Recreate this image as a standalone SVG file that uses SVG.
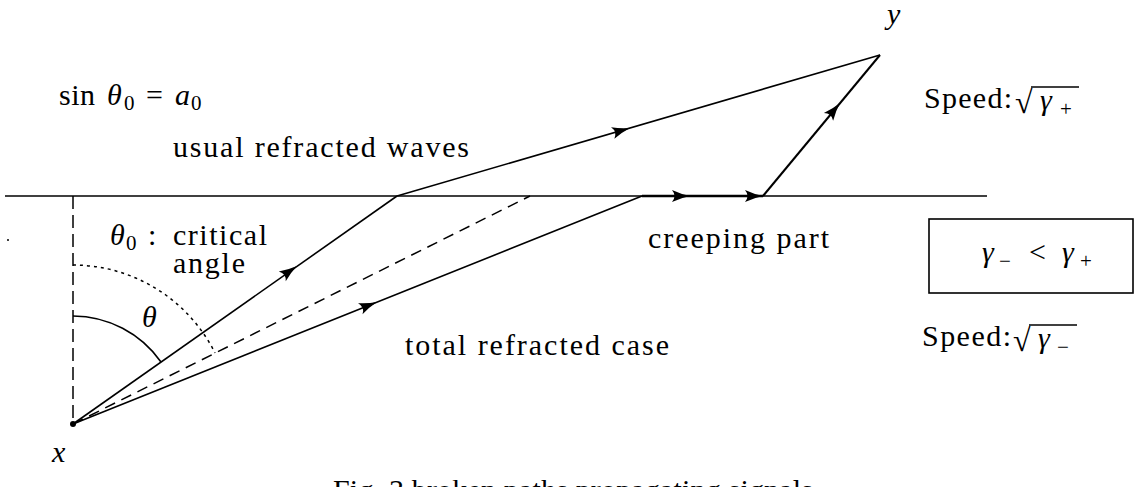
<svg xmlns="http://www.w3.org/2000/svg" width="1139" height="487" viewBox="0 0 1139 487">
<rect width="1139" height="487" fill="#fff"/>
<g id="interface">
<line x1="5" y1="196" x2="987" y2="196" stroke="#000" stroke-width="1.6"/>
<line x1="73" y1="196" x2="73" y2="424" stroke="#000" stroke-width="1.5" stroke-dasharray="13 6"/>
<circle cx="8" cy="240" r="1" fill="#000"/>
</g>
<g id="connectors">
<line x1="73" y1="424" x2="397" y2="196" stroke="#000" stroke-width="1.6"/>
<line x1="397" y1="196" x2="880" y2="55" stroke="#000" stroke-width="1.6"/>
<line x1="73" y1="424" x2="530" y2="196" stroke="#000" stroke-width="1.5" stroke-dasharray="11 7"/>
<line x1="73" y1="424" x2="642" y2="196" stroke="#000" stroke-width="1.6"/>
<line x1="642" y1="196" x2="763" y2="196" stroke="#000" stroke-width="2.4"/>
<line x1="763" y1="196" x2="880" y2="55" stroke="#000" stroke-width="2"/>
<path d="M73,316 A108,108 0 0 1 161,362" fill="none" stroke="#000" stroke-width="1.6"/>
<path d="M73,265 A159,159 0 0 1 215,353" fill="none" stroke="#000" stroke-width="1.5" stroke-dasharray="3 4"/>
<path transform="translate(297,266) rotate(-35.13)" d="M0,0 Q-9,-1.8 -18,-6 Q-13,0 -18,6 Q-9,1.8 0,0 z" fill="#000"/>
<path transform="translate(630,128) rotate(-16.27)" d="M0,0 Q-9,-1.8 -18,-6 Q-13,0 -18,6 Q-9,1.8 0,0 z" fill="#000"/>
<path transform="translate(377,302) rotate(-21.84)" d="M0,0 Q-9,-1.8 -18,-6 Q-13,0 -18,6 Q-9,1.8 0,0 z" fill="#000"/>
<path transform="translate(690,196)" d="M0,0 Q-9,-1.8 -18,-6 Q-13,0 -18,6 Q-9,1.8 0,0 z" fill="#000"/>
<path transform="translate(763,196)" d="M0,0 Q-9,-1.8 -18,-6 Q-13,0 -18,6 Q-9,1.8 0,0 z" fill="#000"/>
<path transform="translate(840,103) rotate(-50.31)" d="M0,0 Q-9,-1.8 -18,-6 Q-13,0 -18,6 Q-9,1.8 0,0 z" fill="#000"/>
</g>
<g id="point-x">
<circle cx="73" cy="424" r="3" fill="#000"/>
<text x="52" y="462" style="font-family:'Liberation Serif',serif;font-size:30px;font-style:italic">x</text>
</g>
<g id="point-y">
<text x="887" y="24" style="font-family:'Liberation Serif',serif;font-size:30px;font-style:italic">y</text>
</g>
<g id="label-sin">
<text x="59" y="105" style="font-family:'Liberation Serif',serif;font-size:30px" textLength="36">sin</text>
<text x="107" y="105" style="font-family:'Liberation Serif',serif;font-size:30px;font-style:italic">θ</text>
<text x="124" y="110" style="font-family:'Liberation Serif',serif;font-size:21px">0</text>
<text x="146" y="105" style="font-family:'Liberation Serif',serif;font-size:30px">=</text>
<text x="175" y="105" style="font-family:'Liberation Serif',serif;font-size:30px;font-style:italic">a</text>
<text x="191" y="110" style="font-family:'Liberation Serif',serif;font-size:21px">0</text>
</g>
<g id="label-usual">
<text x="173" y="157" style="font-family:'Liberation Serif',serif;font-size:30px" textLength="296">usual refracted waves</text>
</g>
<g id="label-critical">
<text x="110" y="245" style="font-family:'Liberation Serif',serif;font-size:30px;font-style:italic">θ</text>
<text x="126" y="250" style="font-family:'Liberation Serif',serif;font-size:21px">0</text>
<text x="148" y="245" style="font-family:'Liberation Serif',serif;font-size:30px">:</text>
<text x="173" y="245" style="font-family:'Liberation Serif',serif;font-size:30px" textLength="94">critical</text>
<text x="173" y="273" style="font-family:'Liberation Serif',serif;font-size:30px" textLength="72">angle</text>
</g>
<g id="label-theta">
<text x="142" y="327" style="font-family:'Liberation Serif',serif;font-size:30px;font-style:italic">θ</text>
</g>
<g id="label-creeping">
<text x="648" y="248" style="font-family:'Liberation Serif',serif;font-size:30px" textLength="181">creeping part</text>
</g>
<g id="label-total">
<text x="405" y="355" style="font-family:'Liberation Serif',serif;font-size:30px" textLength="264">total refracted case</text>
</g>
<g id="speed-plus">
<text x="924" y="108" style="font-family:'Liberation Serif',serif;font-size:30px" textLength="88">Speed:</text>
<text x="1015" y="113" style="font-family:'Liberation Serif',serif;font-size:32px">√</text>
<line x1="1031" y1="87" x2="1079" y2="87" stroke="#000" stroke-width="1.3"/>
<text x="1040" y="110" style="font-family:'Liberation Serif',serif;font-size:30px;font-style:italic">γ</text>
<text x="1060" y="116" style="font-family:'Liberation Serif',serif;font-size:21px">+</text>
</g>
<g id="box-gamma">
<rect x="929" y="219" width="204" height="74" fill="none" stroke="#000" stroke-width="1.6"/>
<text x="982" y="262" style="font-family:'Liberation Serif',serif;font-size:30px;font-style:italic">γ</text>
<text x="999" y="268" style="font-family:'Liberation Serif',serif;font-size:21px">−</text>
<text x="1029" y="262" style="font-family:'Liberation Serif',serif;font-size:30px">&lt;</text>
<text x="1062" y="262" style="font-family:'Liberation Serif',serif;font-size:30px;font-style:italic">γ</text>
<text x="1080" y="268" style="font-family:'Liberation Serif',serif;font-size:21px">+</text>
</g>
<g id="speed-minus">
<text x="922" y="346" style="font-family:'Liberation Serif',serif;font-size:30px" textLength="89">Speed:</text>
<text x="1013" y="351" style="font-family:'Liberation Serif',serif;font-size:32px">√</text>
<line x1="1029" y1="325" x2="1077" y2="325" stroke="#000" stroke-width="1.3"/>
<text x="1038" y="348" style="font-family:'Liberation Serif',serif;font-size:30px;font-style:italic">γ</text>
<text x="1057" y="354" style="font-family:'Liberation Serif',serif;font-size:21px">−</text>
</g>
<g id="caption">
<text x="333" y="500" style="font-family:'Liberation Serif',serif;font-size:30px" textLength="480">Fig. 3   broken paths propagating signals</text>
</g>
</svg>
